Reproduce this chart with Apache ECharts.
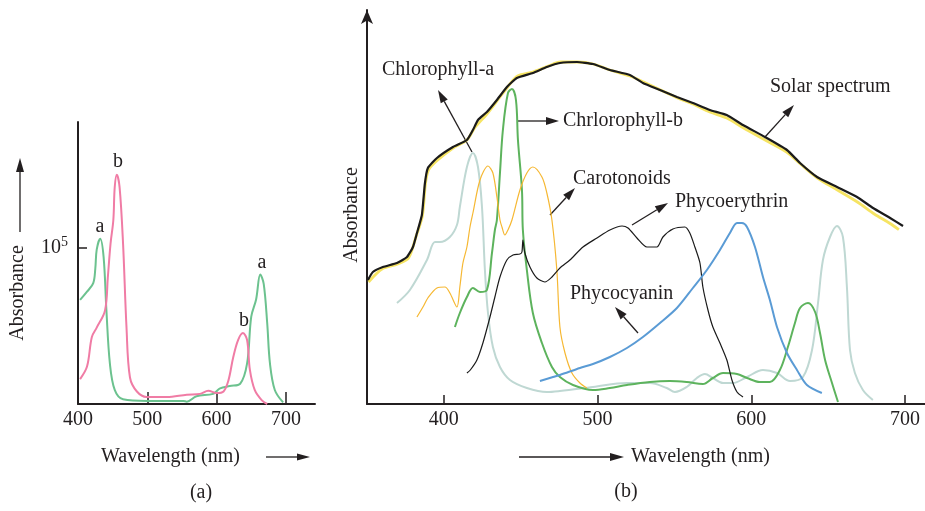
<!DOCTYPE html>
<html>
<head>
<meta charset="utf-8">
<script src="https://cdn.jsdelivr.net/npm/echarts@6/dist/echarts.min.js"></script>
<style>
  html, body { margin: 0; background: #fff; }
  #chart { width: 925px; height: 511px; }
</style>
</head>
<body>
<div id="chart"></div>
<script>
// ---- panel (a): chlorophyll a / b, [wavelength nm, absorbance in units of 10^5]
const panelATicks = [400, 500, 600, 700];
const chlA_a = [[403,0.667],[413,0.72],[422,0.775],[425,0.87],[427,0.99],[432,1.06],[437,0.94],[441,0.6],[446,0.26],
  [453,0.09],[465,0.03],[500,0.02],[552,0.02],[557,0.015],[571,0.05],[595,0.065],[605,0.1],[619,0.115],[634,0.13],
  [644,0.26],[650,0.56],[657,0.67],[663,0.83],[668,0.77],[673,0.52],[677,0.26],[684,0.09],[696,0.01]];
const chlB_a = [[403,0.16],[413,0.24],[420,0.43],[427,0.49],[439,0.6],[443,0.81],[447,1.03],[451,1.18],[453,1.39],
  [456,1.47],[460,1.39],[465,1.03],[470,0.49],[475,0.17],[485,0.08],[499,0.045],[528,0.045],[557,0.06],[576,0.065],
  [588,0.085],[600,0.07],[610,0.08],[617,0.15],[624,0.3],[631,0.41],[638,0.455],[644,0.41],[648,0.22],[655,0.09],
  [665,0.025],[673,0]];

// ---- panel (b): pigments vs solar spectrum, [wavelength nm, relative absorbance]
const panelBTicks = [400, 500, 600, 700];
const solar = [[350.6,31],[353.8,33],[360.3,34.25],[369.5,35.25],[376,36.75],[379.9,39.25],[382.5,42.75],[385.7,47.25],
  [387.7,55.25],[389.6,59],[395.5,61.5],[405.9,64.25],[415,66],[418.9,68.5],[422.2,71],[428,73],[434.5,76],[441,79.25],
  [447.5,81.5],[457.9,82.75],[467,84.25],[475.5,85.25],[486.6,85.5],[497,85],[508,83.5],[521,82.25],[529.5,80.25],
  [540.6,78.5],[551.6,76.75],[562,75.25],[573,73.5],[584,72.25],[594.6,69.75],[608.9,66.75],[623.2,63.5],[631.7,60.25],
  [642.8,56.75],[655.8,54.25],[668.8,51.75],[679.2,49],[690.3,46.5],[698.7,44.5]];
const solarShade = [[351,30.5],[360,33.8],[370,35],[377,36.5],[382,42],[386,47],[388,55],[390,58.5],[396,61],[406,64],
  [415,66],[420,69],[428,72.5],[436,76.5],[442,79.5],[448,82],[458,83],[468,84.5],[476,85.5],[487,85.5],[497,85],
  [508,83.5],[521,82],[530,80.5],[541,78.5],[552,76.5],[562,75],[573,73],[584,71.5],[595,69],[609,66],[623,63],
  [632,60],[643,56.5],[656,53.5],[669,50.5],[680,47.5],[690,45.2],[696,43.6]];
const chlorophyllA = [[369.5,25.25],[377.9,28.5],[389,36],[394.2,40.5],[397.4,40.5],[403.9,41.75],[408.5,44.75],
  [410.4,49.25],[415,59.25],[418.9,62.75],[422.2,59.25],[424.8,49.25],[426.7,33.5],[428.7,22.75],[431.9,14.25],
  [436.5,9.25],[443,6],[454,4],[467,3],[475.5,3.25],[497,4.25],[519,5.25],[534,5.25],[545,4],[550.3,3],[558,4.25],
  [564.6,6.5],[569.8,7.5],[575,6.5],[581.6,5.25],[588,5.25],[597.2,6.75],[607.6,8.5],[616.7,7.75],[625.2,5.75],
  [633.6,6.75],[639.5,13.5],[643.4,25.25],[646.6,36],[651.2,41.75],[655.7,44.5],[659.6,41.75],[662.2,29.25],
  [664.2,13.5],[667.4,7.75],[672.6,3.5],[679.1,1]];
const chlorophyllB = [[407.2,19.25],[410.4,22.75],[415,26.75],[418.9,29],[423.5,28],[428,28.5],[431.3,37.75],
  [433.2,43.5],[434.5,46],[436.5,57.75],[438.4,68.5],[441.7,77.75],[444.3,78.75],[446.9,76],[448.2,66],[450.8,53.5],
  [451.4,43.5],[454,33.5],[457.9,22.75],[463.8,15.25],[470.3,9.25],[475.5,6.75],[484,4.75],[497,3.5],[508,4],
  [519.1,4.75],[534,5.5],[547,5.75],[558,5.5],[568.5,5],[575,6.5],[581.6,7.75],[590.7,7.5],[597.2,6.5],[605.6,5.5],
  [612.1,5.5],[618.6,8.5],[623.8,14.25],[628.4,20.25],[631.7,24],[636.9,25.25],[641.5,23],[644.7,17.75],[648,11],
  [652.5,5.25],[656.4,0.5]];
const carotenoids = [[382.5,21.75],[386.4,24.25],[389.6,26.5],[395.5,29],[400.7,29.25],[403.9,27.75],[408.5,24.25],
  [410.4,29.25],[412.4,35.25],[415,39.25],[417,44.25],[418.9,47.75],[423.5,56],[428.7,59.5],[431.9,57.75],
  [434.5,51.75],[436.5,46],[437.8,44.25],[439.7,42.25],[441.7,43.5],[444.3,46],[449.5,53.5],[454,57.75],
  [457.9,59.25],[463.8,56.75],[467,52.75],[470.3,46],[473.5,33.5],[475.5,19.25],[478.8,12.75],[483.3,7.75],
  [488.5,5.25],[493,4]];
const phycoerythrin = [[415,7.75],[417.2,8.5],[421.5,11],[425.4,15.25],[430,21.75],[433.2,26.75],[436.5,31.75],
  [441,36],[445,37.25],[449.5,37.5],[450.8,38],[451.4,41],[452.7,37.75],[456,34.25],[460.5,31.5],[465.7,30.5],
  [470.3,31.75],[475.5,34],[482,36],[490.5,39.25],[499.6,41.5],[508,43.5],[515.9,44.5],[519.8,44],[525.6,41.5],
  [532.1,39.25],[538.6,39.25],[542.5,41.75],[549,43.75],[556.8,44.25],[560,42.75],[563.3,39.25],[566.6,35.25],
  [568.5,29.25],[571.8,23.5],[575,19.25],[579.6,15.25],[584.1,11],[587.4,6],[590.7,3],[594.6,1.75]];
const phycocyanin = [[462.5,5.75],[471,6.75],[475.5,7.25],[488.5,9],[497,10],[508,11.75],[519.1,14],[529.5,16.75],
  [540.6,20.25],[551.6,24],[562,29],[571.1,33.5],[579.6,38.5],[586.1,42.75],[590.7,45.25],[593.9,45.25],[597.2,44.25],
  [602.4,39.25],[607.6,31.75],[612.1,26],[616.7,19.25],[623.2,12.75],[629.7,8.5],[636.2,4.75],[645.9,2.75]];

const FONT = '"Liberation Serif", "DejaVu Serif", serif';
const INK = '#231f20';

function line(name, data, idx, color, width, smooth, z) {
  return {
    name, type: 'line', data, xAxisIndex: idx, yAxisIndex: idx,
    showSymbol: false, smooth, z: z || 2, silent: true,
    lineStyle: { color, width }
  };
}

// arrow made of a line and a filled head
function arrow(x1, y1, x2, y2, len, half) {
  len = len || 13; half = half || 4;
  const a = Math.atan2(y2 - y1, x2 - x1);
  const bx = x2 - len * Math.cos(a), by = y2 - len * Math.sin(a);
  const px = -Math.sin(a) * half, py = Math.cos(a) * half;
  return [
    { type: 'line', shape: { x1, y1, x2: bx, y2: by }, style: { stroke: INK, lineWidth: 1.3 } },
    { type: 'polygon', shape: { points: [[x2, y2], [bx + px, by + py], [bx - px, by - py]] }, style: { fill: INK } }
  ];
}

function txt(text, x, y, opts) {
  return {
    type: 'text', x, y,
    style: Object.assign({ text, font: '20px ' + FONT, fill: INK, align: 'left', verticalAlign: 'middle' }, opts || {})
  };
}

const axisBase = {
  axisLine: { lineStyle: { color: INK, width: 2 } },
  splitLine: { show: false },
  axisLabel: { color: INK, fontFamily: FONT, fontSize: 20 }
};

const chart = echarts.init(document.getElementById('chart'));
chart.setOption({
  backgroundColor: '#fff',
  animation: false,
  grid: [
    { left: 78, top: 122, width: 237, height: 282 },
    { left: 367, top: 10, width: 558, height: 394 }
  ],
  xAxis: [
    Object.assign({}, axisBase, {
      type: 'value', gridIndex: 0, min: 400, max: 742,
      axisTick: { customValues: [500, 600, 700], inside: true, length: 12, lineStyle: { color: INK, width: 1.5 } },
      axisLabel: Object.assign({}, axisBase.axisLabel, { customValues: panelATicks, margin: 6 })
    }),
    Object.assign({}, axisBase, {
      type: 'value', gridIndex: 1, min: 350, max: 713,
      axisTick: { customValues: panelBTicks, inside: true, length: 9, lineStyle: { color: INK, width: 1.5 } },
      axisLabel: Object.assign({}, axisBase.axisLabel, { customValues: panelBTicks, margin: 6 })
    })
  ],
  yAxis: [
    Object.assign({}, axisBase, {
      type: 'value', gridIndex: 0, min: 0, max: 1.808,
      axisTick: { customValues: [1], inside: true, length: 9, lineStyle: { color: INK, width: 1.5 } },
      axisLabel: {
        customValues: [1], margin: 10, color: INK,
        formatter: () => '{n|10}{s|5}',
        rich: {
          n: { fontFamily: FONT, fontSize: 20, color: INK },
          s: { fontFamily: FONT, fontSize: 14, color: INK, padding: [0, 0, 11, 0] }
        }
      }
    }),
    Object.assign({}, axisBase, {
      type: 'value', gridIndex: 1, min: 0, max: 98.5,
      axisLine: { lineStyle: { color: INK, width: 2 }, symbol: ['none', 'arrow'], symbolSize: [9, 14] },
      axisTick: { show: false },
      axisLabel: { show: false }
    })
  ],
  series: [
    line('Chlorophyll a', chlA_a, 0, '#6cc28f', 2, 0.35),
    line('Chlorophyll b', chlB_a, 0, '#f07ca5', 2, 0.35),
    line('Solar shade', solarShade, 1, '#f6e463', 2.8, 0.3, 2),
    line('Solar spectrum', solar, 1, '#1b1b1b', 2.2, 0.15, 4),
    line('Chlorophyll-a', chlorophyllA, 1, '#bfd8d3', 2, 0.35),
    line('Chlorophyll-b', chlorophyllB, 1, '#5db35d', 2, 0.35),
    line('Carotenoids', carotenoids, 1, '#f6b833', 1.2, 0.3),
    line('Phycoerythrin', phycoerythrin, 1, '#1b1b1b', 1.2, 0.25),
    line('Phycocyanin', phycocyanin, 1, '#5a9bd5', 2, 0.3)
  ],
  graphic: [].concat(
    // panel (a)
    txt('Absorbance', 18, 293, { align: 'center' }),
    arrow(20, 232, 20, 158, 14, 4),
    txt('Wavelength (nm)', 101, 457),
    arrow(266, 457, 310, 457, 13, 3.5),
    txt('a', 100, 227, { align: 'center' }),
    txt('b', 118, 162, { align: 'center' }),
    txt('b', 244, 321, { align: 'center' }),
    txt('a', 262, 263, { align: 'center' }),
    txt('(a)', 201, 493, { align: 'center' }),
    // panel (b)
    txt('Absorbance', 352, 215, { align: 'center' }),
    arrow(519, 457, 624, 457, 14, 4),
    txt('Wavelength (nm)', 631, 457),
    txt('(b)', 626, 492, { align: 'center' }),
    txt('Chlorophyll-a', 382, 70),
    arrow(472, 152, 438, 90),
    txt('Chrlorophyll-b', 563, 121),
    arrow(517, 121, 559, 121),
    txt('Carotonoids', 573, 179),
    arrow(550, 215, 575, 188),
    txt('Phycoerythrin', 675, 202),
    arrow(632, 225, 668, 203),
    txt('Solar spectrum', 770, 87),
    arrow(765, 137, 794, 105),
    txt('Phycocyanin', 570, 294),
    arrow(638, 333, 615, 307)
  ).map(g => {
    // rotate the two y-axis titles
    if (g.type === 'text' && g.style.text === 'Absorbance') g.rotation = Math.PI / 2;
    return g;
  })
});
</script>
</body>
</html>
